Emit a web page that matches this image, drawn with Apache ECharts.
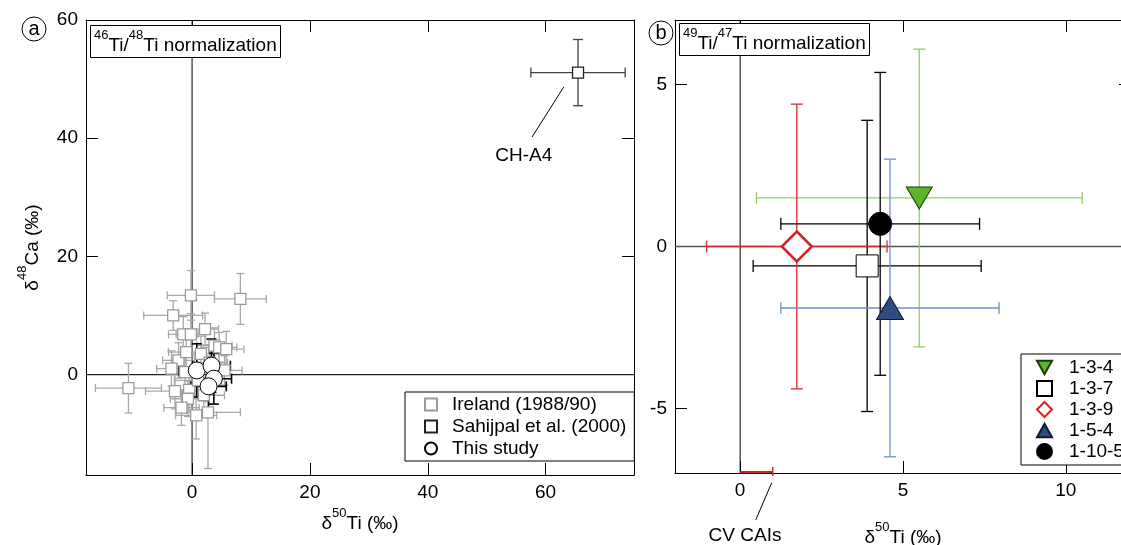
<!DOCTYPE html>
<html><head><meta charset="utf-8">
<script src="https://cdn.jsdelivr.net/npm/echarts@6/dist/echarts.min.js"></script>
<style>html,body{margin:0;padding:0;background:#fff}#c{width:1121px;height:545px}</style>
</head><body><div id="c"></div>
<script>
// ---------- Panel (a) data ----------
const irelandX    = [-0.2, 8.2, -3.2, 2.2, -1.5, -0.2, 3.8, -2.3, -10.8, -2.9, -0.5, 0.7, 2.7, -1.2, -1.0, 4.6, 5.5, -0.7, 1.5, 2.0, -1.8, 5.8, 1.0, 3.0, -3.5];
const irelandY    = [13.4, 12.8, 10.0, 7.7, 6.8, 6.8, 4.9, 2.4, -2.3, -2.8, -2.6, -6.9, -6.4, 0.4, 3.8, 4.6, 0.7, -4.1, 3.5, -3.5, -5.6, 4.3, -1.0, 2.0, 1.0];
const irelandXErr = [4.0, 4.4, 5.0, 2.3, 2.5, 2.5, 3.0, 2.7, 5.6, 5.0, 3.0, 3.5, 5.5, 3.0, 3.0, 3.0, 3.0, 3.0, 3.0, 3.5, 3.0, 3.0, 4.0, 3.0, 2.5];
const irelandYErr = [4.2, 4.3, 2.5, 2.7, 3.0, 3.5, 3.0, 3.0, 4.2, 3.0, 3.5, 4.0, 9.5, 3.5, 3.5, 2.5, 2.5, 3.0, 3.0, 3.0, 3.0, 3.0, 3.0, 3.0, 3.0];

const sahijpalX = [65.5];
const sahijpalY = [51.1];
const sahijpalXErr = [8.0];
const sahijpalYErr = [5.6];

const studyX    = [0.8, 3.3, 3.7, 2.8];
const studyY    = [0.7, 1.5, -0.7, -2.0];
const studyXErr = [3.0, 3.2, 3.0, 3.0];
const studyYErr = [4.5, 4.5, 4.3, 4.6];

const aXTicks = [0, 20, 40, 60];
const aYTicks = [0, 20, 40, 60];

// ---------- Panel (b) data ----------
const samples  = ['1-3-4', '1-3-7', '1-3-9', '1-5-4', '1-10-5'];
const sampleX    = [5.5, 3.9, 1.74, 4.6, 4.3];
const sampleY    = [1.5, -0.6, 0.0, -1.9, 0.7];
const sampleXErr = [5.0, 3.5, 2.77, 3.35, 3.05];
const sampleYErr = [4.6, 4.5, 4.4, 4.6, 4.68];
const cvCaiRange = [0, 1.0];

const bXTicks = [0, 5, 10];
const bYTicks = [-5, 0, 5];

// ---------- styling ----------
const FONT = '"Liberation Sans", Arial, Helvetica, sans-serif';
const FS = 19;
function rich(size) {
  return {
    n: {fontSize: size, fontFamily: FONT, fontWeight: 'normal', color: '#000', lineHeight: 26, verticalAlign: 'bottom'},
    s: {fontSize: Math.round(size * 0.68), fontFamily: FONT, fontWeight: 'normal', color: '#000', lineHeight: 10, verticalAlign: 'top'}
  };
}
function xAx(grid, min, max, ticks, position, labels, name, gap) {
  return {
    type: 'value', gridIndex: grid, min: min, max: max, position: position,
    name: name || '', nameLocation: 'middle', nameGap: gap || 0,
    nameTextStyle: {rich: rich(FS)},
    axisLine: {show: true, onZero: false, lineStyle: {color: '#000', width: 1}},
    axisTick: {show: true, inside: true, length: 12, customValues: ticks, lineStyle: {color: '#000', width: 1}},
    axisLabel: {show: labels, customValues: ticks, fontSize: FS, fontFamily: FONT, color: '#000', margin: 8},
    splitLine: {show: false}
  };
}
function yAx(grid, min, max, ticks, position, labels, name, gap) {
  const a = xAx(grid, min, max, ticks, position, labels, name, gap);
  a.nameRotate = 90;
  return a;
}
function errRender(color, cap, width) {
  return function (params, api) {
    const x = api.value(0), y = api.value(1), ex = api.value(2), ey = api.value(3);
    const c = api.coord([x, y]);
    const l = api.coord([x - ex, y]), r = api.coord([x + ex, y]);
    const t = api.coord([x, y + ey]), b = api.coord([x, y - ey]);
    const h = cap / 2;
    const st = {stroke: color, lineWidth: width, fill: null};
    return {type: 'group', children: [
      {type: 'line', shape: {x1: l[0], y1: c[1], x2: r[0], y2: c[1]}, style: st},
      {type: 'line', shape: {x1: c[0], y1: t[1], x2: c[0], y2: b[1]}, style: st},
      {type: 'line', shape: {x1: l[0], y1: c[1] - h, x2: l[0], y2: c[1] + h}, style: st},
      {type: 'line', shape: {x1: r[0], y1: c[1] - h, x2: r[0], y2: c[1] + h}, style: st},
      {type: 'line', shape: {x1: c[0] - h, y1: t[1], x2: c[0] + h, y2: t[1]}, style: st},
      {type: 'line', shape: {x1: c[0] - h, y1: b[1], x2: c[0] + h, y2: b[1]}, style: st}
    ]};
  };
}
function errData(xs, ys, exs, eys) {
  return xs.map((v, i) => [v, ys[i], exs[i], eys[i]]);
}
function zeroLines(hColor, hWidth) {
  return function (params, api) {
    const cs = params.coordSys;
    const o = api.coord([0, 0]);
    return {type: 'group', children: [
      {type: 'line', shape: {x1: o[0], y1: cs.y, x2: o[0], y2: cs.y + cs.height}, style: {stroke: '#000', lineWidth: 1}},
      {type: 'line', shape: {x1: cs.x, y1: o[1], x2: cs.x + cs.width, y2: o[1]}, style: {stroke: hColor, lineWidth: hWidth}}
    ]};
  };
}

const sampleStyle = [
  {bar: '#8fd161', symbol: 'triangle', rotate: 180, size: [26, 22], color: '#5cb52a', border: '#1a3a0a', bw: 1, icon: 'path://M0,0 L10,0 L5,9 Z'},
  {bar: '#000000', symbol: 'rect', rotate: 0, size: 22, color: '#ffffff', border: '#000', bw: 1, icon: 'rect'},
  {bar: '#d9262b', symbol: 'diamond', rotate: 0, size: 30, color: '#ffffff', border: '#d42222', bw: 2.5, icon: 'diamond'},
  {bar: '#6f8fc0', symbol: 'triangle', rotate: 0, size: [27, 23], color: '#2e4d7e', border: '#0d1a33', bw: 1, icon: 'path://M5,0 L10,9 L0,9 Z'},
  {bar: '#000000', symbol: 'circle', rotate: 0, size: 23, color: '#000000', border: '#000', bw: 1, icon: 'circle'}
];

const series = [];
// panel a
series.push({type: 'custom', xAxisIndex: 0, yAxisIndex: 0, data: [[0, 0]], renderItem: zeroLines('#222', 1.2), silent: true});
series.push({type: 'custom', xAxisIndex: 0, yAxisIndex: 0, name: 'irelandErr', data: errData(irelandX, irelandY, irelandXErr, irelandYErr),
  encode: {x: 0, y: 1}, renderItem: errRender('#a8a8a8', 8, 1.3), silent: true});
series.push({type: 'scatter', xAxisIndex: 0, yAxisIndex: 0, name: 'Ireland (1988/90)', symbol: 'rect', symbolSize: 11,
  data: irelandX.map((v, i) => [v, irelandY[i]]),
  itemStyle: {color: '#fff', borderColor: '#9a9a9a', borderWidth: 1.3, opacity: 1}, silent: true});
series.push({type: 'custom', xAxisIndex: 0, yAxisIndex: 0, name: 'sahErr', data: errData(sahijpalX, sahijpalY, sahijpalXErr, sahijpalYErr),
  encode: {x: 0, y: 1}, renderItem: errRender('#444', 10, 1.3), silent: true});
series.push({type: 'scatter', xAxisIndex: 0, yAxisIndex: 0, name: 'Sahijpal et al. (2000)', symbol: 'rect', symbolSize: 11,
  data: sahijpalX.map((v, i) => [v, sahijpalY[i]]),
  itemStyle: {color: '#fff', borderColor: '#222', borderWidth: 1.3, opacity: 1}, silent: true});
series.push({type: 'custom', xAxisIndex: 0, yAxisIndex: 0, name: 'studyErr', data: errData(studyX, studyY, studyXErr, studyYErr),
  encode: {x: 0, y: 1}, renderItem: errRender('#000', 10, 1.6), silent: true});
series.push({type: 'scatter', xAxisIndex: 0, yAxisIndex: 0, name: 'This study', symbol: 'circle', symbolSize: 17,
  data: studyX.map((v, i) => [v, studyY[i]]),
  itemStyle: {color: '#fff', borderColor: '#000', borderWidth: 1, opacity: 1}, silent: true});
// CH-A4 annotation
series.push({type: 'custom', xAxisIndex: 0, yAxisIndex: 0, data: [[0, 0]], silent: true, clip: false,
  renderItem: function (params, api) {
    const p1 = api.coord([63.1, 48.7]), p2 = api.coord([57.7, 40.2]), pl = api.coord([56.3, 37.0]);
    return {type: 'group', children: [
      {type: 'line', shape: {x1: p1[0], y1: p1[1], x2: p2[0], y2: p2[1]}, style: {stroke: '#000', lineWidth: 1}},
      {type: 'text', x: pl[0], y: pl[1], style: {text: 'CH-A4', fontSize: FS, fontFamily: FONT, fill: '#000', align: 'center', verticalAlign: 'middle'}}
    ]};
  }});

// panel b
series.push({type: 'custom', xAxisIndex: 2, yAxisIndex: 2, data: [[0, 0]], renderItem: zeroLines('#555', 1.4), silent: true});
samples.forEach((s, i) => {
  const st = sampleStyle[i];
  series.push({type: 'custom', xAxisIndex: 2, yAxisIndex: 2, name: s + '-err',
    data: [[sampleX[i], sampleY[i], sampleXErr[i], sampleYErr[i]]],
    encode: {x: 0, y: 1}, renderItem: errRender(st.bar, 12, 1.3), silent: true});
});
samples.forEach((s, i) => {
  const st = sampleStyle[i];
  series.push({type: 'scatter', xAxisIndex: 2, yAxisIndex: 2, name: s, symbol: st.symbol, symbolRotate: st.rotate, symbolSize: st.size,
    data: [[sampleX[i], sampleY[i]]],
    itemStyle: {color: st.color, borderColor: st.border, borderWidth: st.bw, opacity: 1}, silent: true});
});
// CV CAIs bar + annotation
series.push({type: 'custom', xAxisIndex: 2, yAxisIndex: 2, data: [[cvCaiRange[0], cvCaiRange[1]]], silent: true, clip: false, z: 5,
  renderItem: function (params, api) {
    const a = api.coord([api.value(0), -7]), b = api.coord([api.value(1), -7]);
    const p1 = api.coord([0.97, -7.3]), p2 = api.coord([0.48, -8.45]), pl = api.coord([0.15, -8.95]);
    return {type: 'group', children: [
      {type: 'line', shape: {x1: a[0], y1: a[1] - 1, x2: b[0], y2: b[1] - 1}, style: {stroke: '#d42222', lineWidth: 2}},
      {type: 'line', shape: {x1: b[0], y1: b[1] - 6, x2: b[0], y2: b[1] + 3}, style: {stroke: '#d42222', lineWidth: 1.5}},
      {type: 'line', shape: {x1: p1[0], y1: p1[1], x2: p2[0], y2: p2[1]}, style: {stroke: '#000', lineWidth: 1}},
      {type: 'text', x: pl[0], y: pl[1], style: {text: 'CV CAIs', fontSize: FS, fontFamily: FONT, fill: '#000', align: 'center', verticalAlign: 'middle'}}
    ]};
  }});

const chart = echarts.init(document.getElementById('c'));
chart.setOption({
  animation: false,
  backgroundColor: '#fff',
  grid: [
    {left: 86, top: 20, width: 548, height: 455, outerBoundsMode: 'none', containLabel: false},
    {left: 675, top: 20, width: 456, height: 453, outerBoundsMode: 'none', containLabel: false}
  ],
  xAxis: [
    xAx(0, -18, 75, aXTicks, 'bottom', true, '{n|δ}{s|50}{n|Ti (‰)}', 31),
    xAx(0, -18, 75, aXTicks, 'top', false),
    xAx(1, -2, 12, bXTicks, 'bottom', true, '{n|δ}{s|50}{n|Ti (‰)}', 48),
    xAx(1, -2, 12, bXTicks, 'top', false)
  ],
  yAxis: [
    yAx(0, -17, 60, aYTicks, 'left', true, '{n|δ}{s|48}{n|Ca (‰)}', 44),
    yAx(0, -17, 60, aYTicks, 'right', false),
    yAx(1, -7, 7, bYTicks, 'left', true),
    yAx(1, -7, 7, bYTicks, 'right', false)
  ],
  title: [
    {text: '{s|46}{n|Ti/}{s|48}{n|Ti normalization}', left: 90, top: 25, padding: [4, 4, 3, 4],
      borderColor: '#000', borderWidth: 1, backgroundColor: '#fff', textStyle: {fontWeight: 'normal', rich: rich(FS)}},
    {text: '{s|49}{n|Ti/}{s|47}{n|Ti normalization}', left: 679, top: 23, padding: [4, 4, 3, 4],
      borderColor: '#000', borderWidth: 1, backgroundColor: '#fff', textStyle: {fontWeight: 'normal', rich: rich(FS)}}
  ],
  legend: [
    {data: [{name: 'Ireland (1988/90)', icon: 'rect'}, {name: 'Sahijpal et al. (2000)', icon: 'rect'}, {name: 'This study', icon: 'circle'}],
      orient: 'vertical', left: 405, top: 392,
      padding: [3, 8, 3, 19], itemGap: 3, itemWidth: 12, itemHeight: 12, selectedMode: false,
      borderColor: '#000', borderWidth: 1, backgroundColor: '#fff',
      textStyle: {fontSize: FS, fontFamily: FONT, color: '#000', padding: [0, 0, 0, 10]}},
    {data: samples.map((s, i) => ({name: s, icon: sampleStyle[i].icon})), orient: 'vertical', left: 1021, top: 354,
      padding: [4, 10, 4, 15], itemGap: 2, itemWidth: 15, itemHeight: 15, selectedMode: false,
      borderColor: '#000', borderWidth: 1, backgroundColor: '#fff',
      textStyle: {fontSize: FS, fontFamily: FONT, color: '#000', padding: [0, 0, 0, 12]}}
  ],
  graphic: [
    {type: 'circle', shape: {cx: 34, cy: 29, r: 12}, style: {fill: '#fff', stroke: '#000', lineWidth: 1}},
    {type: 'text', x: 34, y: 29, style: {text: 'a', fontSize: 20, fontFamily: FONT, fill: '#000', align: 'center', verticalAlign: 'middle'}},
    {type: 'circle', shape: {cx: 661, cy: 33, r: 12}, style: {fill: '#fff', stroke: '#000', lineWidth: 1}},
    {type: 'text', x: 661, y: 33, style: {text: 'b', fontSize: 20, fontFamily: FONT, fill: '#000', align: 'center', verticalAlign: 'middle'}}
  ],
  series: series
});
</script>
</body></html>
